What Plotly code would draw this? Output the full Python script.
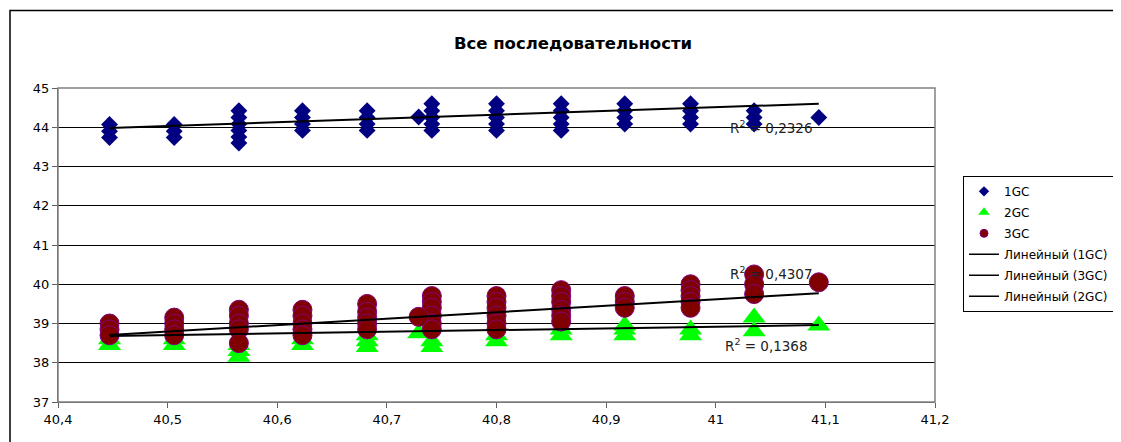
import plotly.graph_objects as go

# ---------------- data ----------------
gc_positions = [40.447, 40.506, 40.565, 40.623, 40.682, 40.741,
                40.800, 40.859, 40.917, 40.977, 41.035, 41.094]

gc1_values = [
    [44.07, 43.90, 43.74],
    [44.07, 43.90, 43.74],
    [44.42, 44.25, 44.08, 43.92, 43.75, 43.60],
    [44.42, 44.25, 44.08, 43.92],
    [44.42, 44.25, 44.08, 43.92],
    [44.60, 44.42, 44.25, 44.08, 43.92],
    [44.60, 44.42, 44.25, 44.08, 43.92],
    [44.60, 44.42, 44.25, 44.08, 43.92],
    [44.60, 44.42, 44.25, 44.08],
    [44.60, 44.42, 44.25, 44.08],
    [44.42, 44.25, 44.08],
    [44.25],
]
gc1_extra_x = [40.729]
gc1_extra_y = [44.26]

gc2_values = [
    [38.45, 38.60],
    [38.45, 38.60],
    [38.15, 38.30, 38.45],
    [38.45, 38.60],
    [38.40, 38.55, 38.70],
    [38.40, 38.55],
    [38.55, 38.70],
    [38.70, 38.85],
    [38.70, 38.85, 38.95],
    [38.70, 38.85],
    [38.80, 39.15],
    [38.95],
]
gc2_extra_x = [40.729]
gc2_extra_y = [38.75]

gc3_values = [
    [39.00, 38.85, 38.70],
    [39.15, 39.00, 38.85, 38.70],
    [39.35, 39.20, 39.00, 38.85, 38.50],
    [39.35, 39.20, 39.00, 38.85, 38.70],
    [39.50, 39.30, 39.15, 39.00, 38.85],
    [39.70, 39.55, 39.40, 39.20, 39.00, 38.85],
    [39.70, 39.55, 39.40, 39.20, 39.00, 38.85],
    [39.85, 39.70, 39.55, 39.35, 39.20, 39.05],
    [39.70, 39.55, 39.40],
    [40.00, 39.85, 39.70, 39.55, 39.40],
    [40.25, 40.00, 39.75],
    [40.05],
]
gc3_extra_x = [40.729]
gc3_extra_y = [39.17]

# linear trend lines (end values)
trend_x = [40.447, 41.094]
trend_1gc = [43.98, 44.60]
trend_3gc = [38.71, 39.77]
trend_2gc = [38.68, 38.96]

r2_labels = ["R<sup>2</sup> = 0,2326", "R<sup>2</sup> = 0,4307", "R<sup>2</sup> = 0,1368"]
r2_pos_x = [41.013, 41.013, 41.008]
r2_pos_y = [44.01, 40.28, 38.45]

title_text = "Все последовательности"
x_ticks = [40.4, 40.5, 40.6, 40.7, 40.8, 40.9, 41.0, 41.1, 41.2]
y_ticks = [37, 38, 39, 40, 41, 42, 43, 44, 45]


def expand(positions, values, ex_x, ex_y):
    xs, ys = [], []
    for p, vals in zip(positions, values):
        for v in vals:
            xs.append(p)
            ys.append(v)
    return xs + ex_x, ys + ex_y


x1, y1 = expand(gc_positions, gc1_values, gc1_extra_x, gc1_extra_y)
x2, y2 = expand(gc_positions, gc2_values, gc2_extra_x, gc2_extra_y)
x3, y3 = expand(gc_positions, gc3_values, gc3_extra_x, gc3_extra_y)

FONT = "DejaVu Sans, Verdana, sans-serif"
BODY = 8  # default page margin of the html body

C1, C2, C3, C3L = "#000080", "#00FF00", "#800000", "#800080"

fig = go.Figure()
# real marks (legend shown through small proxy entries below)
fig.add_trace(go.Scatter(x=x1, y=y1, mode="markers", name="1GC", showlegend=False,
                         marker=dict(symbol="diamond", size=13, color=C1, line=dict(width=0))))
fig.add_trace(go.Scatter(x=x2, y=y2, mode="markers", name="2GC", showlegend=False,
                         marker=dict(symbol="triangle-up", size=20, color=C2, line=dict(width=0))))
fig.add_trace(go.Scatter(x=x3, y=y3, mode="markers", name="3GC", showlegend=False,
                         marker=dict(symbol="circle", size=19, color=C3, line=dict(width=1, color=C3L))))
fig.add_trace(go.Scatter(x=trend_x, y=trend_1gc, mode="lines", name="Линейный (1GC)", showlegend=False,
                         line=dict(color="black", width=2)))
fig.add_trace(go.Scatter(x=trend_x, y=trend_3gc, mode="lines", name="Линейный (3GC)", showlegend=False,
                         line=dict(color="black", width=2)))
fig.add_trace(go.Scatter(x=trend_x, y=trend_2gc, mode="lines", name="Линейный (2GC)", showlegend=False,
                         line=dict(color="black", width=2)))

# legend proxies (small symbols, as in the reference legend)
legend_items = [
    ("1GC", dict(mode="markers", marker=dict(symbol="diamond", size=8, color=C1))),
    ("2GC", dict(mode="markers", marker=dict(symbol="triangle-up", size=10, color=C2))),
    ("3GC", dict(mode="markers", marker=dict(symbol="circle", size=8, color=C3,
                                              line=dict(width=1, color=C3L)))),
    ("Линейный (1GC)", dict(mode="lines", line=dict(color="black", width=1.5))),
    ("Линейный (3GC)", dict(mode="lines", line=dict(color="black", width=1.5))),
    ("Линейный (2GC)", dict(mode="lines", line=dict(color="black", width=1.5))),
]
for i, (nm, kw) in enumerate(legend_items):
    fig.add_trace(go.Scatter(x=[None], y=[None], name=nm, legendgroup="g%d" % i,
                             showlegend=True, **kw))

for txt, ax_, ay_ in zip(r2_labels, r2_pos_x, r2_pos_y):
    fig.add_annotation(x=ax_, y=ay_, text=txt, showarrow=False,
                       font=dict(family=FONT, size=13.5, color="#222222"),
                       xanchor="left", yanchor="middle", xshift=-2)

fig.update_layout(
    width=1121, height=442,
    margin=dict(l=58 - BODY, r=1121 - 935 + BODY, t=88 - BODY, b=40 + BODY,
                autoexpand=False),
    paper_bgcolor="white", plot_bgcolor="white",
    separators=", ",
    font=dict(family=FONT, size=13, color="black"),
    title=dict(text="<b>" + title_text + "</b>", x=(573 - BODY) / 1121, xanchor="center",
               y=1 - (43 - BODY) / 442, yanchor="middle",
               font=dict(family=FONT, size=16.5, color="black")),
    showlegend=True,
    legend=dict(x=(963 - 58) / 877, y=(401.7 - 176) / 313.4, xanchor="left", yanchor="top",
                bordercolor="black", borderwidth=1, bgcolor="white",
                itemsizing="trace", traceorder="grouped", tracegroupgap=2,
                font=dict(family=FONT, size=12, color="black"),
                itemwidth=30),
    xaxis=dict(range=[40.4, 41.2], tickvals=x_ticks, tickformat=".1~f",
               showgrid=False, zeroline=False,
               showline=True, linecolor="#606060", linewidth=1,
               ticks="outside", ticklen=5, tickcolor="#606060",
               tickfont=dict(family=FONT, size=13, color="black")),
    yaxis=dict(range=[37, 45], tickvals=y_ticks,
               showgrid=True, gridcolor="black", gridwidth=1, zeroline=False,
               showline=True, linecolor="#606060", linewidth=1,
               ticks="outside", ticklen=5, tickcolor="#606060",
               tickfont=dict(family=FONT, size=13, color="black")),
    shapes=[
        # plot-area frame
        dict(type="rect", xref="paper", yref="paper", x0=0, x1=1, y0=0, y1=1,
             line=dict(color="#808080", width=1.5), layer="above"),
        # outer chart border
        dict(type="rect", xref="paper", yref="paper",
             x0=(10 - 58) / 877, x1=(1130 - 58) / 877,
             y0=-0.2, y1=(401.7 - 11) / 313.4,
             line=dict(color="black", width=1.5)),
    ],
)

fig.write_html("out.html")
